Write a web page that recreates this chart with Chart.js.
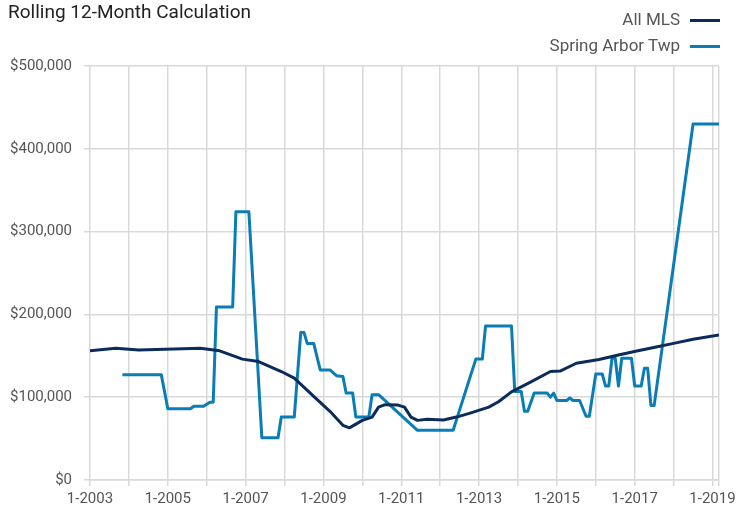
<!DOCTYPE html>
<html>
<head>
<meta charset="utf-8">
<script src="https://cdn.jsdelivr.net/npm/chart.js@4"></script>
<style>
  body { margin: 0; background: #fff; }
  #wrap { position: relative; width: 738px; height: 515px; font-family: 'Liberation Sans Narrow', 'Roboto', sans-serif; }
  #title { position: absolute; left: 8px; top: 0px; font-size: 19px; color: #222; }
  #legend { position: absolute; right: 18px; top: 6px; text-align: right; font-size: 17px; color: #555; }
  #legend div { height: 26px; line-height: 26px; }
  #legend span { display: inline-block; width: 30px; height: 3px; margin-left: 10px; vertical-align: middle; }
  canvas { position: absolute; left: 0; top: 0; }
</style>
</head>
<body>
<div id="wrap">
  <canvas id="chart" width="738" height="515"></canvas>
  <div id="title">Rolling 12-Month Calculation</div>
  <div id="legend"></div>
</div>
<script>
// Months counted from 1-2003 (0 = Jan 2003)
const mlsMonths = [0, 8, 15, 34, 40, 47, 52, 59, 63, 69, 74, 78, 80, 84, 87, 89, 91, 95, 97, 99, 101, 104, 109, 113, 117, 123, 126, 130, 136, 142, 145, 150, 157, 163, 169, 175, 180, 186, 194];
const mlsValues = [156000, 159000, 157000, 159000, 156000, 146000, 143000, 131000, 123000, 101000, 83000, 66000, 63000, 72000, 76000, 88000, 91000, 90500, 88000, 76000, 72000, 73500, 72500, 76000, 80500, 88000, 94500, 106500, 118500, 131000, 131500, 141000, 145500, 151000, 156000, 161000, 165000, 170000, 175000];

const sprMonths = [10, 22, 24, 31, 32, 35, 37, 38, 39, 44, 45, 49, 53, 58, 59, 63, 65, 66, 67, 69, 71, 74, 76, 78, 79, 81, 82, 86, 87, 89, 101, 112, 119, 121, 122, 130, 131, 133, 134, 135, 137, 141, 142, 143, 144, 147, 148, 149, 151, 153, 154, 156, 158, 159, 160, 161, 162, 163, 164, 167, 168, 170, 171, 172, 173, 174, 186, 194];
const sprValues = [127000, 127000, 86000, 86000, 89000, 89000, 94000, 94000, 209000, 209000, 324000, 324000, 51000, 51000, 76000, 76000, 178000, 178000, 165000, 165000, 133000, 133000, 126000, 125000, 105000, 105000, 76000, 76000, 103000, 103000, 60000, 60000, 146000, 146000, 186000, 186000, 107000, 107000, 83000, 83000, 105000, 105000, 100000, 105000, 96000, 96000, 99000, 96000, 96000, 77000, 77000, 128000, 128000, 113500, 113500, 147000, 147000, 113500, 147000, 147000, 113500, 113500, 135000, 135000, 90000, 90000, 430000, 430000];

const seriesNames = ['All MLS', 'Spring Arbor Twp'];
const seriesColors = ['#0b2c5b', '#0a7db4'];
const xTickLabels = ['1-2003', '1-2005', '1-2007', '1-2009', '1-2011', '1-2013', '1-2015', '1-2017', '1-2019'];
const yTicks = [0, 100000, 200000, 300000, 400000, 500000];
const lastMonth = 194;

const toPoints = (xs, ys) => xs.map((x, i) => ({ x: x, y: ys[i] }));

const fontFamily = "'Liberation Sans Narrow', 'Roboto', sans-serif";

const chart = new Chart(document.getElementById('chart'), {
    type: 'line',
    data: {
        datasets: [
            { label: seriesNames[0], data: toPoints(mlsMonths, mlsValues), borderColor: seriesColors[0] },
            { label: seriesNames[1], data: toPoints(sprMonths, sprValues), borderColor: seriesColors[1] }
        ]
    },
    options: {
        responsive: false,
        animation: false,
        layout: { padding: { left: 0, right: 19, top: 66, bottom: 0 } },
        elements: {
            point: { radius: 0 },
            line: { borderWidth: 3, tension: 0, borderJoinStyle: 'round' }
        },
        plugins: {
            legend: { display: false },
            tooltip: { enabled: false }
        },
        scales: {
            x: {
                type: 'linear',
                min: 0,
                max: lastMonth,
                afterBuildTicks: (scale) => {
                    const ticks = [];
                    for (let m = 0; m <= 192; m += 12) ticks.push({ value: m });
                    ticks.push({ value: lastMonth });
                    scale.ticks = ticks;
                },
                afterFit: (scale) => { scale.height = 35; },
                grid: { color: '#d9d9d9', lineWidth: 1.5, tickLength: 6 },
                border: { color: '#d9d9d9', width: 1.5 },
                ticks: {
                    autoSkip: false,
                    maxRotation: 0,
                    padding: 4,
                    color: '#555',
                    font: { family: fontFamily, size: 15 },
                    callback: (v) => (v % 24 === 0 && v <= 192) ? xTickLabels[v / 24] : ''
                }
            },
            y: {
                min: 0,
                max: 500000,
                afterBuildTicks: (scale) => { scale.ticks = yTicks.map(v => ({ value: v })); },
                afterFit: (scale) => { scale.width = 90; },
                grid: { color: '#d9d9d9', lineWidth: 1.5, tickLength: 6 },
                border: { display: false },
                ticks: {
                    padding: 12,
                    color: '#555',
                    font: { family: fontFamily, size: 15 },
                    callback: (v) => '$' + v.toLocaleString('en-US')
                }
            }
        }
    }
});

// Legend: text on the left, line sample on the right
const legendEl = document.getElementById('legend');
chart.data.datasets.forEach(ds => {
    const row = document.createElement('div');
    row.textContent = ds.label;
    const swatch = document.createElement('span');
    swatch.style.background = ds.borderColor;
    row.appendChild(swatch);
    legendEl.appendChild(row);
});
</script>
</body>
</html>
